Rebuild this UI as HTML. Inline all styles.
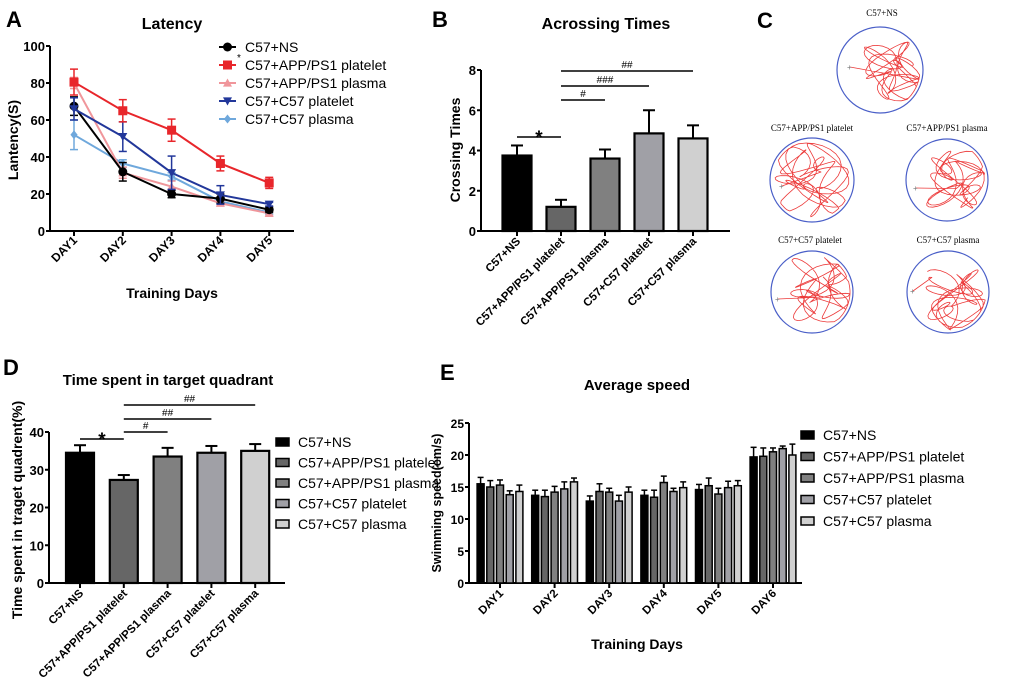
<!DOCTYPE html>
<html><head><meta charset="utf-8"><style>
html,body{margin:0;padding:0;background:#fff;}
svg{display:block;font-family:"Liberation Sans",Arial,sans-serif;}
.b{font-weight:bold;}
</style></head><body>
<svg id="fig" width="1020" height="689" viewBox="0 0 1020 689" xmlns="http://www.w3.org/2000/svg">
<g id="pc">
<text x="757" y="28" font-size="22" class="b">C</text>
<text x="882" y="16" font-size="9" text-anchor="middle" font-family="Liberation Serif,serif">C57+NS</text>
<text x="812" y="131" font-size="9" text-anchor="middle" font-family="Liberation Serif,serif">C57+APP/PS1 platelet</text>
<text x="947" y="131" font-size="9" text-anchor="middle" font-family="Liberation Serif,serif">C57+APP/PS1 plasma</text>
<text x="810" y="243" font-size="9" text-anchor="middle" font-family="Liberation Serif,serif">C57+C57 platelet</text>
<text x="948" y="243" font-size="9" text-anchor="middle" font-family="Liberation Serif,serif">C57+C57 plasma</text>
</g>
</svg>
<script>
var NS='http://www.w3.org/2000/svg';
var svg=document.getElementById('fig');
function el(tag,attrs,parent,txt){var e=document.createElementNS(NS,tag);for(var k in attrs)e.setAttribute(k,attrs[k]);if(txt!==undefined)e.textContent=txt;(parent||svg).appendChild(e);return e;}

// ---------- Panel A data ----------
var daysA=['DAY1','DAY2','DAY3','DAY4','DAY5'];
var seriesNamesA=['C57+NS','C57+APP/PS1 platelet','C57+APP/PS1 plasma','C57+C57 platelet','C57+C57 plasma'];
var nsA=[67.5,32,20,17.5,11.5];
var nsErrA=[5,5,2,2.5,1.5];
var appPlateletA=[80.5,65,54.5,36.5,26];
var appPlateletErrA=[7,6,6,4,3];
var appPlasmaA=[80,31.5,24,15,9.5];
var appPlasmaErrA=[3,3,3,1,1];
var c57PlateletA=[66,51,31.5,19.5,14.5];
var c57PlateletErrA=[6,8,9,5,1];
var c57PlasmaA=[52,36.5,29.5,16,10];
var c57PlasmaErrA=[8,2,2,1,1];
var ticksA=[0,20,40,60,80,100];

// ---------- Panel B data ----------
var groups=['C57+NS','C57+APP/PS1 platelet','C57+APP/PS1 plasma','C57+C57 platelet','C57+C57 plasma'];
var crossing=[3.75,1.2,3.6,4.85,4.6];
var crossingErr=[0.5,0.35,0.45,1.15,0.65];
var ticksB=[0,2,4,6,8];

// ---------- Panel D data ----------
var quadrant=[34.5,27.3,33.5,34.5,35];
var quadrantErr=[2,1.3,2.3,1.8,1.8];
var ticksD=[0,10,20,30,40];

// ---------- Panel E data ----------
var daysE=['DAY1','DAY2','DAY3','DAY4','DAY5','DAY6'];
var speedNS=[15.5,13.7,12.8,13.7,14.6,19.7];
var speedAppPlatelet=[15,13.5,14.3,13.4,15.2,19.8];
var speedAppPlasma=[15.3,14.2,14.2,15.7,13.9,20.5];
var speedC57Platelet=[13.8,14.7,12.8,14.3,14.9,21];
var speedC57Plasma=[14.3,15.8,14.2,14.9,15.2,20];
var speedErrNS=[1,0.8,0.8,0.8,0.8,1.5];
var speedErrAppPlatelet=[1,1,1.2,1.1,1.2,1.3];
var speedErrAppPlasma=[0.8,0.9,0.6,1,0.9,0.6];
var speedErrC57Platelet=[0.6,1.1,0.9,0.5,1,0.4];
var speedErrC57Plasma=[1,0.6,0.8,0.9,0.8,1.7];
var ticksE=[0,5,10,15,20,25];

var barFills=['#000000','#666666','#808080','#a0a0a6','#d0d0d0'];

function rotLabel(x,y,t,fs,parent,name){
  var e=el('text',{x:x,y:y,'font-size':fs,'font-weight':'bold','text-anchor':'end',transform:'rotate(-45 '+x+' '+y+')'},parent,t);
  
  
  return e;
}
function yAxis(g,x,y0,y1,ticks,max,prefix,fs){
  var ax=el('line',{x1:x,y1:y0,x2:x,y2:y1,stroke:'#000','stroke-width':2},g);
  
  
  ticks.forEach(function(v){
    var y=y0-(v/max)*(y0-y1);
    el('line',{x1:x-4,y1:y,x2:x,y2:y,stroke:'#000','stroke-width':2},g);
    var t=el('text',{x:x-5,y:y+5,'font-size':fs||13,'font-weight':'bold','text-anchor':'end'},g,String(v));
    
    
  });
}

// ================= Panel A =================
(function(){
  var g=el('g',{});
  
  
  var x0=50,x1=294,yb=231,yt=46;
  function sx(i){return 74+i*48.8;}
  function sy(v){return yb-v/100*(yb-yt);}
  var L=el('text',{x:6,y:27,'font-size':22,'font-weight':'bold'},g,'A');
  
  var T=el('text',{x:172,y:29,'font-size':16,'font-weight':'bold','text-anchor':'middle'},g,'Latency');
  
  yAxis(g,x0,yb,yt,ticksA,100,'panel-a');
  var xa=el('line',{x1:x0,y1:yb,x2:x1,y2:yb,stroke:'#000','stroke-width':2},g);
  
  daysA.forEach(function(d,i){
    el('line',{x1:sx(i),y1:yb,x2:sx(i),y2:yb+5,stroke:'#000','stroke-width':2},g);
    rotLabel(sx(i)+4,yb+10,d,12,g,'panel-a-x-tick-label');
  });
  var yl=el('text',{x:0,y:0,'font-size':14,'font-weight':'bold','text-anchor':'middle',transform:'translate(18,140) rotate(-90)'},g,'Lantency(S)');
  
  var xl=el('text',{x:172,y:298,'font-size':14,'font-weight':'bold','text-anchor':'middle'},g,'Training Days');
  
  var data=[nsA,appPlateletA,appPlasmaA,c57PlateletA,c57PlasmaA];
  var errs=[nsErrA,appPlateletErrA,appPlasmaErrA,c57PlateletErrA,c57PlasmaErrA];
  var cols=['#000000','#e8262b','#f0969b','#22379a','#6fa8dc'];
  var marks=['circle','square','tri','tridown','diamond'];
  var order=[4,2,0,3,1];
  function marker(m,x,y,c,parent){
    var s=4.5,e;
    if(m==='circle')e=el('circle',{cx:x,cy:y,r:s,fill:c},parent);
    else if(m==='square')e=el('rect',{x:x-s,y:y-s,width:2*s,height:2*s,fill:c},parent);
    else if(m==='tri')e=el('polygon',{points:(x)+','+(y-s)+' '+(x-s)+','+(y+s*0.8)+' '+(x+s)+','+(y+s*0.8),fill:c},parent);
    else if(m==='tridown')e=el('polygon',{points:(x)+','+(y+s)+' '+(x-s)+','+(y-s*0.8)+' '+(x+s)+','+(y-s*0.8),fill:c},parent);
    else e=el('polygon',{points:x+','+(y-s)+' '+(x+s*0.8)+','+y+' '+x+','+(y+s)+' '+(x-s*0.8)+','+y,fill:c},parent);
    return e;
  }
  order.forEach(function(k){
    var sg=el('g',{},g);
    
    
    var pts=data[k].map(function(v,i){return sx(i)+','+sy(v);}).join(' ');
    var pl=el('polyline',{points:pts,fill:'none',stroke:cols[k],'stroke-width':2},sg);
    
    data[k].forEach(function(v,i){
      var x=sx(i),e=errs[k][i];
      el('line',{x1:x,y1:sy(v-e),x2:x,y2:sy(v+e),stroke:cols[k],'stroke-width':1.5},sg);
      el('line',{x1:x-4,y1:sy(v+e),x2:x+4,y2:sy(v+e),stroke:cols[k],'stroke-width':1.5},sg);
      el('line',{x1:x-4,y1:sy(v-e),x2:x+4,y2:sy(v-e),stroke:cols[k],'stroke-width':1.5},sg);
      var m=marker(marks[k],x,sy(v),cols[k],sg);
      
    });
  });
  seriesNamesA.forEach(function(n,k){
    var y=47+k*18;
    var lg=el('g',{},g);
    
    
    el('line',{x1:219,y1:y,x2:236,y2:y,stroke:cols[k],'stroke-width':2},lg);
    marker(marks[k],227.5,y,cols[k],lg);
    el('text',{x:245,y:y+5,'font-size':14},lg,n);
  });
  var st=el('text',{x:237,y:61,'font-size':10},g,'*');
  
})();

// ============ generic bar panel (B, D) ============
function barPanel(cfg){
  var g=el('g',{});
  
  
  var yb=cfg.yb,yt=cfg.yt,max=cfg.max;
  function sy(v){return yb-v/max*(yb-yt);}
  function sx(i){return cfg.c0+i*cfg.step;}
  yAxis(g,cfg.x0,yb,yt,cfg.ticks,max,cfg.prefix);
  var xa=el('line',{x1:cfg.x0,y1:yb,x2:cfg.x1,y2:yb,stroke:'#000','stroke-width':2},g);
  
  cfg.vals.forEach(function(v,i){
    var x=sx(i),w=cfg.bw,e=cfg.errs[i];
    el('line',{x1:x,y1:sy(v),x2:x,y2:sy(v+e),stroke:'#000','stroke-width':2},g);
    el('line',{x1:x-6,y1:sy(v+e),x2:x+6,y2:sy(v+e),stroke:'#000','stroke-width':2},g);
    var r=el('rect',{x:x-w/2,y:sy(v),width:w,height:yb-sy(v),fill:barFills[i],stroke:'#000','stroke-width':2.2},g);
    
    
    el('line',{x1:x,y1:yb,x2:x,y2:yb+5,stroke:'#000','stroke-width':2},g);
    rotLabel(x+4,yb+11,groups[i],11.5,g,cfg.prefix+'-x-tick-label');
  });
  cfg.sig.forEach(function(s){
    var l=el('line',{x1:sx(s[0]),y1:s[2],x2:sx(s[1]),y2:s[2],stroke:'#000','stroke-width':1.5},g);
    
    var star=s[3]==='*';
    var t=el('text',{x:(sx(s[0])+sx(s[1]))/2,y:star?s[2]+7:s[2]-3,'font-size':star?19:10,'font-weight':star?'bold':'normal','text-anchor':'middle'},g,s[3]);
    
  });
  return g;
}

// Panel B
(function(){
  var g=barPanel({name:'panel-b-crossing-chart',prefix:'panel-b',x0:481,x1:730,yb:231,yt:70,max:8,ticks:ticksB,c0:517,step:44,bw:29,vals:crossing,errs:crossingErr,
    sig:[[0,1,137,'*'],[1,2,100,'#'],[1,3,86,'###'],[1,4,71,'##']]});
  var L=el('text',{x:432,y:27,'font-size':22,'font-weight':'bold'},g,'B');
  
  var T=el('text',{x:606,y:29,'font-size':16,'font-weight':'bold','text-anchor':'middle'},g,'Acrossing Times');
  
  var yl=el('text',{x:0,y:0,'font-size':14,'font-weight':'bold','text-anchor':'middle',transform:'translate(460,150) rotate(-90)'},g,'Crossing Times');
  
})();

// Panel D
(function(){
  var g=barPanel({name:'panel-d-quadrant-chart',prefix:'panel-d',x0:49,x1:285,yb:583,yt:432,max:40,ticks:ticksD,c0:80,step:43.8,bw:28,vals:quadrant,errs:quadrantErr,
    sig:[[0,1,439,'*'],[1,2,432,'#'],[1,3,419,'##'],[1,4,405,'##']]});
  var L=el('text',{x:3,y:375,'font-size':22,'font-weight':'bold'},g,'D');
  
  var T=el('text',{x:168,y:385,'font-size':15,'font-weight':'bold','text-anchor':'middle'},g,'Time spent in target quadrant');
  
  var yl=el('text',{x:0,y:0,'font-size':14,'font-weight':'bold','text-anchor':'middle',transform:'translate(22,510) rotate(-90)'},g,'Time spent in traget quadrent(%)');
  
  groups.forEach(function(n,k){
    var y=442+k*20.5;
    var lg=el('g',{},g);
    
    
    el('rect',{x:276,y:y-4,width:13,height:8,fill:barFills[k],stroke:'#000','stroke-width':1.5},lg);
    el('text',{x:298,y:y+5,'font-size':14},lg,n);
  });
})();

// Panel E
(function(){
  var g=el('g',{});
  
  
  var yb=583,yt=423,max=25,x0=469,x1=802;
  function sy(v){return yb-v/max*(yb-yt);}
  function gx(i){return 500+i*54.6;}
  yAxis(g,x0,yb,yt,ticksE,max,'panel-e',12);
  var xa=el('line',{x1:x0,y1:yb,x2:x1,y2:yb,stroke:'#000','stroke-width':2},g);
  
  var L=el('text',{x:440,y:380,'font-size':22,'font-weight':'bold'},g,'E');
  
  var T=el('text',{x:637,y:390,'font-size':15,'font-weight':'bold','text-anchor':'middle'},g,'Average speed');
  
  var yl=el('text',{x:0,y:0,'font-size':12.5,'font-weight':'bold','text-anchor':'middle',transform:'translate(441,503) rotate(-90)'},g,'Swimming speed(cm/s)');
  
  var xl=el('text',{x:637,y:649,'font-size':14,'font-weight':'bold','text-anchor':'middle'},g,'Training Days');
  
  var sets=[speedNS,speedAppPlatelet,speedAppPlasma,speedC57Platelet,speedC57Plasma];
  var errs=[speedErrNS,speedErrAppPlatelet,speedErrAppPlasma,speedErrC57Platelet,speedErrC57Plasma];
  daysE.forEach(function(d,i){
    sets.forEach(function(s,k){
      var x=gx(i)+(k-2)*9.7,v=s[i],e=errs[k][i];
      el('line',{x1:x,y1:sy(v),x2:x,y2:sy(v+e),stroke:'#000','stroke-width':1.5},g);
      el('line',{x1:x-3,y1:sy(v+e),x2:x+3,y2:sy(v+e),stroke:'#000','stroke-width':1.5},g);
      var r=el('rect',{x:x-3.5,y:sy(v),width:7,height:yb-sy(v),fill:barFills[k],stroke:'#000','stroke-width':1.5},g);
      
      
    });
    el('line',{x1:gx(i),y1:yb,x2:gx(i),y2:yb+5,stroke:'#000','stroke-width':2},g);
    rotLabel(gx(i)+4,yb+11,d,11.5,g,'panel-e-x-tick-label');
  });
  groups.forEach(function(n,k){
    var y=435+k*21.5;
    var lg=el('g',{},g);
    
    
    el('rect',{x:801,y:y-4,width:13,height:8,fill:barFills[k],stroke:'#000','stroke-width':1.5},lg);
    el('text',{x:823,y:y+5,'font-size':14},lg,n);
  });
})();

// Panel C track plots (decorative swim paths)
(function(){
  var g=document.getElementById('pc');
  // [cx, cy, r, focus-x offset, focus-y offset, spread, seed]
  var circles=[[880,70,43,14,2,0.75,1],[812,180,42,0,0,0.95,2],[947,180,41,10,0,0.8,3],[812,292,41,10,-2,0.85,4],[948,292,41,8,8,0.8,5]];
  var starts=[[850,67],[782,186],[916,188],[778,299],[913,291]];
  circles.forEach(function(c,i){
    var cg=el('g',{},g);
    
    
    var pts=[starts[i][0]+','+starts[i][1]];
    var R=c[2]-3,s=c[6];
    for(var t=0;t<=24;t+=0.1){
      var x=c[0]+c[3]+R*c[5]*(0.6*Math.sin(t*1.3+s)+0.4*Math.sin(t*3.7+2*s));
      var y=c[1]+c[4]+R*c[5]*(0.6*Math.cos(t*1.1+s*1.7)+0.4*Math.sin(t*2.9+s));
      var dx=x-c[0],dy=y-c[1],d=Math.sqrt(dx*dx+dy*dy);
      if(d>R){x=c[0]+dx*R/d;y=c[1]+dy*R/d;}
      pts.push(x.toFixed(1)+','+y.toFixed(1));
    }
    el('circle',{cx:c[0],cy:c[1],r:c[2],fill:'none',stroke:'#4a5fc8','stroke-width':1.2},cg);
    el('polyline',{points:pts.join(' '),fill:'none',stroke:'#ec3a3a','stroke-width':0.8,'stroke-linejoin':'round'},cg);
    el('text',{x:starts[i][0]-3,y:starts[i][1]+3,'font-size':8,fill:'#777'},cg,'+');
  });
})();
</script>
</body></html>
